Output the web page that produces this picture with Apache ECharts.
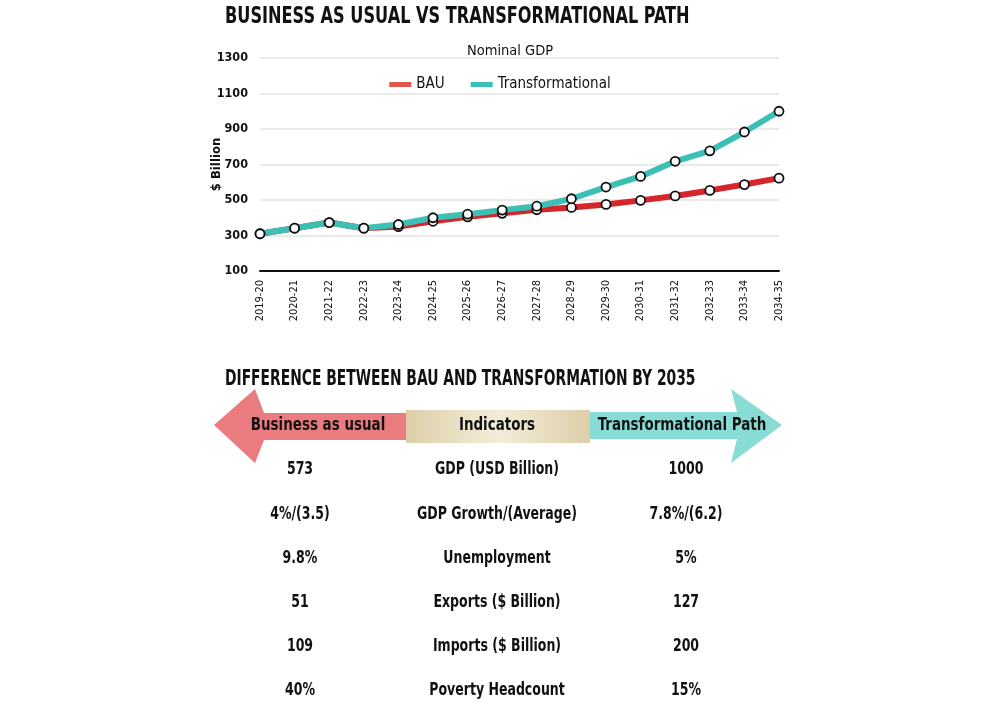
<!DOCTYPE html>
<html>
<head>
<meta charset="utf-8">
<script src="https://cdn.jsdelivr.net/npm/echarts@6/dist/echarts.min.js"></script>
<style>
  html, body { margin: 0; padding: 0; background: #fff; }
  #chart { width: 1000px; height: 704px; }
</style>
</head>
<body>
<div id="chart"></div>
<script>
const years = ['2019-20', '2020-21', '2021-22', '2022-23', '2023-24', '2024-25', '2025-26', '2026-27',
  '2027-28', '2028-29', '2029-30', '2030-31', '2031-32', '2032-33', '2033-34', '2034-35'];
const bau = [310, 341, 373, 341, 350, 380, 405, 425, 445, 458, 475, 498, 523, 554, 587, 623];
const transformational = [310, 341, 373, 341, 362, 400, 420, 443, 465, 507, 573, 633, 718, 777, 883, 1000];

const indicators = ['GDP (USD Billion)', 'GDP Growth/(Average)', 'Unemployment', 'Exports ($ Billion)', 'Imports ($ Billion)', 'Poverty Headcount'];
const bauValues = ['573', '4%/(3.5)', '9.8%', '51', '109', '40%'];
const transValues = ['1000', '7.8%/(6.2)', '5%', '127', '200', '15%'];

const FONT = "'DejaVu Sans Condensed', 'Liberation Sans', sans-serif";
const INK = '#111';

// condensed text helper (no narrow font installed, so squeeze horizontally)
function txt(t, x, y, size, sx, align) {
  return {
    type: 'text', x: x, y: y, scaleX: sx,
    style: { text: t, font: `bold ${size}px ${FONT}`, fill: INK, align: align || 'center', verticalAlign: 'middle' }
  };
}

const graphics = [];
graphics.push(txt('BUSINESS AS USUAL VS TRANSFORMATIONAL PATH', 225, 17, 23, 0.78, 'left'));
graphics.push(txt('DIFFERENCE BETWEEN BAU AND TRANSFORMATION BY 2035', 225, 379, 22, 0.70, 'left'));
graphics.push({
  type: 'polygon',
  shape: { points: [[214, 425], [255, 389], [264, 413], [410, 413], [410, 440], [264, 440], [255, 463]] },
  style: { fill: '#ea7b7e' }
});
graphics.push({
  type: 'polygon',
  shape: { points: [[782, 425], [731, 389], [737, 412], [588, 412], [588, 439], [737, 439], [731, 463]] },
  style: { fill: '#88dcd5' }
});
graphics.push({
  type: 'rect',
  shape: { x: 406, y: 410, width: 184, height: 33 },
  style: {
    fill: new echarts.graphic.LinearGradient(0, 0, 1, 0, [
      { offset: 0, color: '#dccfa8' }, { offset: 0.5, color: '#f3ecd9' }, { offset: 1, color: '#dccfa8' }
    ])
  }
});
graphics.push(txt('Business as usual', 318, 426, 17, 0.88));
graphics.push(txt('Indicators', 497, 426, 17, 0.88));
graphics.push(txt('Transformational Path', 682, 426, 17, 0.88));
indicators.forEach((name, i) => {
  const y = 470 + i * 44.2;
  graphics.push(txt(bauValues[i], 300, y, 17, 0.82));
  graphics.push(txt(name, 497, y, 17, 0.82));
  graphics.push(txt(transValues[i], 686, y, 17, 0.82));
});

const chart = echarts.init(document.getElementById('chart'));
chart.setOption({
  backgroundColor: '#fff',
  animation: false,
  title: {
    text: 'Nominal GDP', left: 505, top: 39, textAlign: 'center',
    textStyle: { fontFamily: FONT, fontWeight: 'normal', fontSize: 14.5, color: INK }
  },
  legend: {
    top: 72, left: 'center',
    itemWidth: 22, itemHeight: 5, itemGap: 26,
    icon: 'rect',
    textStyle: { fontFamily: FONT, fontSize: 15, color: INK },
    data: [
      { name: 'BAU', itemStyle: { color: '#e0574c', borderWidth: 0 } },
      { name: 'Transformational', itemStyle: { color: '#3cc0b5', borderWidth: 0 } }
    ]
  },
  grid: { left: 260, right: 221, top: 58, bottom: 433 },
  xAxis: {
    type: 'category', data: years, boundaryGap: false,
    axisLine: { lineStyle: { color: '#111', width: 2 } },
    axisTick: { show: false },
    axisLabel: { rotate: 90, fontFamily: FONT, fontSize: 11, color: INK, margin: 9 }
  },
  yAxis: {
    type: 'value', min: 100, max: 1300, interval: 200,
    name: '$ Billion', nameLocation: 'middle', nameGap: 37, nameMoveOverlap: false,
    nameTextStyle: { fontFamily: FONT, fontWeight: 'bold', fontSize: 13, color: INK },
    axisLine: { show: false }, axisTick: { show: false },
    axisLabel: { fontFamily: FONT, fontWeight: 'bold', fontSize: 12.5, color: INK, margin: 12, formatter: v => String(v) },
    splitLine: { lineStyle: { color: '#e3e3e3', width: 1.5 } }
  },
  series: [
    { name: 'BAU', type: 'line', data: bau, color: '#d7252c',
      lineStyle: { width: 6, color: '#d7252c' },
      symbol: 'circle', symbolSize: 9,
      itemStyle: { color: '#fff', borderColor: '#111', borderWidth: 1.8 } },
    { name: 'Transformational', type: 'line', data: transformational, color: '#3cc0b5',
      lineStyle: { width: 6, color: '#3cc0b5' },
      symbol: 'circle', symbolSize: 9,
      itemStyle: { color: '#fff', borderColor: '#111', borderWidth: 1.8 } }
  ],
  graphic: graphics
});
</script>
</body>
</html>
